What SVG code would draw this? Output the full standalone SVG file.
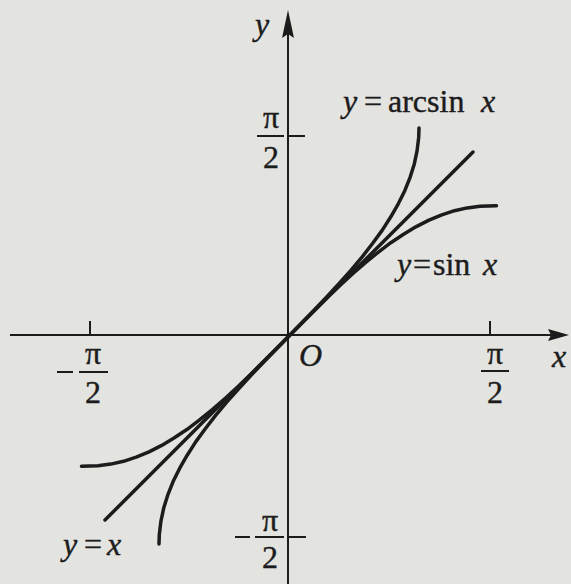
<svg xmlns="http://www.w3.org/2000/svg" width="571" height="584" viewBox="0 0 571 584">
<style>
.ax{stroke:#1c1c1c;stroke-width:2;fill:none}
.cv{stroke:#1c1c1c;stroke-width:3.5;fill:none;stroke-linecap:round;stroke-linejoin:round}
.t{font-family:"Liberation Serif","Times New Roman",serif;font-size:32px;fill:#1c1c1c;stroke:#1c1c1c;stroke-width:0.4}
.i{font-style:italic}
.f{font-family:"Liberation Serif","Times New Roman",serif;font-size:32px;fill:#1c1c1c;stroke:#1c1c1c;stroke-width:0.4;text-anchor:middle}
.bar{stroke:#1c1c1c;stroke-width:2}
</style>
<rect width="571" height="584" fill="#e3e3e0"/>
<g id="axes">
<line class="ax" x1="10" y1="335" x2="552" y2="335"/>
<path d="M569,335 L548,329 L551,335 L548,341 Z" fill="#1c1c1c"/>
<line class="ax" x1="288" y1="584" x2="288" y2="30"/>
<path d="M288,10 L282,38 L288,34 L294,38 Z" fill="#1c1c1c"/>
<line class="ax" x1="90" y1="321" x2="90" y2="335"/>
<line class="ax" x1="490" y1="321" x2="490" y2="335"/>
<line class="ax" x1="288" y1="136" x2="305" y2="136"/>
<line class="ax" x1="288" y1="537" x2="306" y2="537"/>
</g>
<g id="curves">
<polyline id="line-yx" class="cv" points="105,520 473,152"/>
<polyline id="curve-sin" class="cv" points="81.5,466.2 98,465.7 110.8,464.1 123.5,461.3 136.2,457.2 149,451.9 161.7,445.4 174.4,437.8 187.2,429.3 199.9,419.7 212.6,409.4 225.3,398.3 238.1,386.6 250.8,374.4 263.5,361.8 276.3,349 289,336 301.7,323 314.5,310.2 327.2,297.6 339.9,285.4 352.7,273.7 365.4,262.6 378.1,252.3 390.8,242.7 403.6,234.2 416.3,226.6 429,220.1 441.8,214.8 454.5,210.7 467.2,207.9 480,206.3 496.5,205.8"/>
<polyline id="curve-arcsin" class="cv" points="159,544 159.3,534.6 160.9,521.4 163.7,508.1 167.8,494.9 173.1,481.6 179.6,468.4 187.2,455.2 195.7,441.9 205.3,428.7 215.6,415.4 226.7,402.2 238.4,389 250.6,375.7 263.2,362.5 276,349.2 289,336 302,322.8 314.8,309.5 327.4,296.3 339.6,283 351.3,269.8 362.4,256.6 372.7,243.3 382.3,230.1 390.8,216.8 398.4,203.6 404.9,190.4 410.2,177.1 414.3,163.9 417.1,150.6 418.7,137.4 419,128"/>
</g>
<g id="labels">
<text class="t i" x="255" y="35">y</text>
<text class="t i" x="552" y="367">x</text>
<text class="t i" x="299" y="366">O</text>
<g id="label-arcsin">
<text class="t i" x="343" y="112">y</text>
<text class="t" x="364" y="112">=</text>
<text class="t" x="388" y="112">arcsin</text>
<text class="t i" x="481" y="112">x</text>
</g>
<g id="label-sin">
<text class="t i" x="397" y="275">y</text>
<text class="t" x="413" y="275">=</text>
<text class="t" x="433" y="275">sin</text>
<text class="t i" x="483" y="275">x</text>
</g>
<g id="label-yx">
<text class="t i" x="63" y="555">y</text>
<text class="t" x="84" y="555">=</text>
<text class="t i" x="107" y="555">x</text>
</g>
<g id="tick-y-pos">
<text class="f" x="271" y="128">π</text>
<line class="bar" x1="257" y1="136" x2="284" y2="136"/>
<text class="f" x="271" y="168">2</text>
</g>
<g id="tick-y-neg">
<line class="bar" x1="235" y1="537" x2="250" y2="537"/>
<text class="f" x="270" y="531">π</text>
<line class="bar" x1="255" y1="537" x2="284" y2="537"/>
<text class="f" x="270" y="568">2</text>
</g>
<g id="tick-x-neg">
<line class="bar" x1="57" y1="372" x2="73" y2="372"/>
<text class="f" x="93" y="364">π</text>
<line class="bar" x1="79" y1="372" x2="108" y2="372"/>
<text class="f" x="93" y="403">2</text>
</g>
<g id="tick-x-pos">
<text class="f" x="495" y="364">π</text>
<line class="bar" x1="481" y1="371" x2="509" y2="371"/>
<text class="f" x="495" y="403">2</text>
</g>
</g>
</svg>
